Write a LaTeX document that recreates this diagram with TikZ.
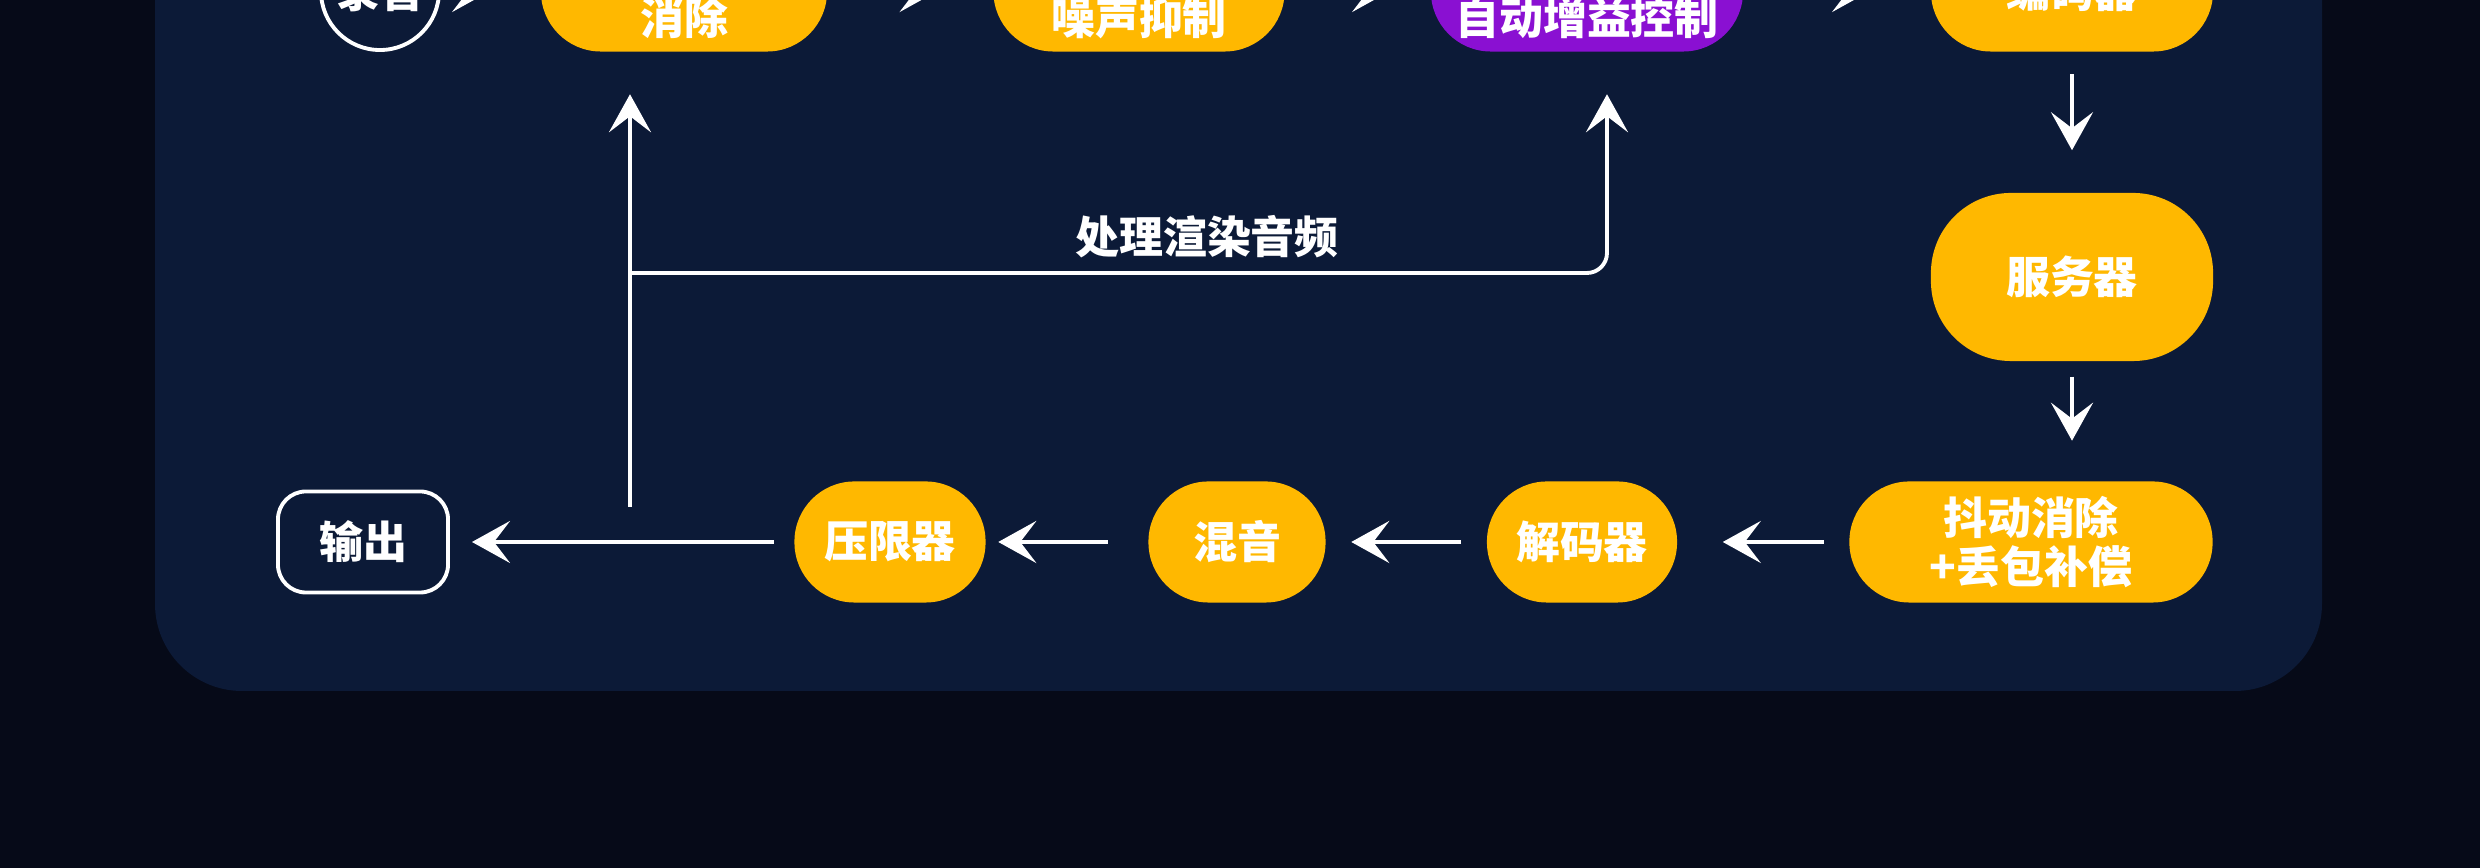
\documentclass[tikz,border=0pt]{standalone}
\usepackage{fontspec}
\setmainfont{Noto Sans CJK SC}
\usetikzlibrary{arrows.meta, positioning, calc}
\definecolor{pagebg}{RGB}{6, 10, 24}
\definecolor{panelbg}{RGB}{12, 26, 55}
\definecolor{stepyellow}{RGB}{255, 184, 0}
\definecolor{agcpurple}{RGB}{138, 16, 210}
\tikzset{
  proc/.style     = {rectangle, rounded corners=0.6cm, fill=stepyellow, text=white, minimum height=1.21cm, inner sep=0pt, align=center, font=\fontsize{12.5}{14}\selectfont\bfseries},
  procimp/.style  = {proc, fill=agcpurple},
  lowtext/.style  = {text height=0.92cm},
  iobox/.style    = {rectangle, rounded corners=0.28cm, draw=white, line width=1.1pt, text=white, minimum width=1.7cm, minimum height=1.01cm, align=center, font=\fontsize{12.5}{14}\selectfont\bfseries},
  mic/.style      = {circle, draw=white, line width=1.1pt, text=white, minimum size=1.18cm, inner sep=0pt, font=\fontsize{12.5}{14}\selectfont\bfseries},
  note/.style     = {text=white, font=\fontsize{12.5}{14}\selectfont\bfseries},
  flow/.style     = {-{Stealth[length=0.38cm, width=0.42cm, inset=0.16cm]}, line width=1.1pt, white, shorten <=0.25cm, shorten >=0.25cm},
  flowdown/.style = {flow, shorten <=0.22cm, shorten >=0.42cm},
}

\begin{document}
\begin{tikzpicture}[x=0.01cm, y=-0.01cm]

% 背景
\useasboundingbox (0,0) rectangle (2480,868);
\clip (0,0) rectangle (2480,868);
\fill[pagebg] (0,0) rectangle (2480,868);
\fill[panelbg, rounded corners=0.87cm] (155,-200) rectangle (2322,691);

% 上行：采集与发送
\node[mic] (rec) at (380,-9) {录音};
\node[proc, lowtext, minimum width=2.86cm] (echo) at (684,-9) {消除};
\node[proc, lowtext, minimum width=2.91cm] (noise) at (1139,-9) {噪声抑制};
\node[procimp, lowtext, minimum width=3.12cm] (agc) at (1587,-9) {自动增益控制};
\node[proc, minimum width=2.82cm] (enc) at (2072,-9) {编码器};

% 右侧：服务器
\node[proc, rounded corners=0.8cm, minimum width=2.82cm, minimum height=1.68cm] (server) at (2072,277) {服务器};

% 下行：接收与播放
\node[proc, minimum width=3.63cm] (jitter) at (2031,542) {抖动消除\\+丢包补偿};
\node[proc, minimum width=1.90cm] (dec) at (1582,542) {解码器};
\node[proc, minimum width=1.77cm] (mix) at (1237,542) {混音};
\node[proc, minimum width=1.91cm] (lim) at (890,542) {压限器};
\node[iobox] (out) at (363,542) {输出};

% 箭头：上行
\draw[flow, shorten <=0.15cm, shorten >=0.5cm] (rec) -- (echo);
\draw[flow, shorten >=0.55cm] (echo) -- (noise);
\draw[flow, shorten >=0.4cm] (noise) -- (agc);
\draw[flow, shorten >=0.6cm] (agc) -- (enc);

% 箭头：服务器
\draw[flowdown] (enc) -- (server);
\draw[flowdown, shorten <=0.15cm, shorten >=0.4cm] (server.south -| enc) -- (jitter.north -| enc);

% 箭头：下行
\draw[flow, shorten >=0.45cm] (jitter) -- (dec);
\draw[flow] (dec) -- (mix);
\draw[flow, shorten <=0.4cm, shorten >=0.12cm] (mix) -- (lim);
\draw[flow, shorten <=0.2cm, shorten >=0.22cm] (lim) -- (out);

% 回授：渲染音频
\coordinate (tap) at (630,507);
\coordinate (fork) at (630,273);
\coordinate (agcin) at ($(agc.south)+(20,0)$);
\draw[flow, shorten <=0pt, shorten >=0.42cm] (tap) -- (tap |- echo.south);
\draw[flow, rounded corners=0.2cm, shorten <=0pt, shorten >=0.42cm] (fork) -- (fork -| agcin) -- (agcin);
\node[note] (fblabel) at (1207,237) {处理渲染音频};

\end{tikzpicture}
\end{document}
